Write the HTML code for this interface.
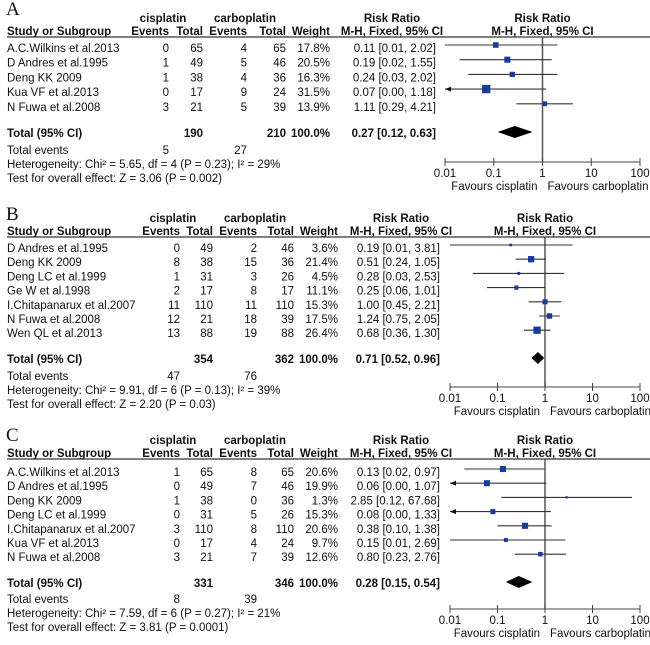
<!DOCTYPE html>
<html><head><meta charset="utf-8"><style>
html,body{margin:0;padding:0;background:#fff;}
svg text{font-family:"Liberation Sans",Arial,sans-serif;font-size:11.5px;fill:#111;}
svg text.b{font-weight:bold;}
svg text.letter{font-family:"Liberation Serif",serif;font-size:19px;}
</style></head><body>
<svg id="chart" width="650" height="640" viewBox="0 0 650 640" xmlns="http://www.w3.org/2000/svg"></svg>
<script>
// Panel A data
const studiesA = ["A.C.Wilkins et al.2013","D Andres et al.1995","Deng KK 2009","Kua VF et al.2013","N Fuwa et al.2008"];
const cisEventsA = [0,1,1,0,3];
const cisTotalA = [65,49,38,17,21];
const carEventsA = [4,5,4,9,5];
const carTotalA = [65,46,36,24,39];
const weightA = [17.8,20.5,16.3,31.5,13.9];
const rrA = [0.11,0.19,0.24,0.07,1.11];
const loA = [0.01,0.02,0.03,0.00,0.29];
const hiA = [2.02,1.55,2.02,1.18,4.21];
const totalA = {rr:0.27, lo:0.12, hi:0.63, n1:190, n2:210, e1:5, e2:27,
  het:"Heterogeneity: Chi² = 5.65, df = 4 (P = 0.23); I² = 29%", test:"Test for overall effect: Z = 3.06 (P = 0.002)"};

// Panel B data
const studiesB = ["D Andres et al.1995","Deng KK 2009","Deng LC et al.1999","Ge W et al.1998","I.Chitapanarux et al.2007","N Fuwa et al.2008","Wen QL et al.2013"];
const cisEventsB = [0,8,1,2,11,12,13];
const cisTotalB = [49,38,31,17,110,21,88];
const carEventsB = [2,15,3,8,11,18,19];
const carTotalB = [46,36,26,17,110,39,88];
const weightB = [3.6,21.4,4.5,11.1,15.3,17.5,26.4];
const rrB = [0.19,0.51,0.28,0.25,1.00,1.24,0.68];
const loB = [0.01,0.24,0.03,0.06,0.45,0.75,0.36];
const hiB = [3.81,1.05,2.53,1.01,2.21,2.05,1.30];
const totalB = {rr:0.71, lo:0.52, hi:0.96, n1:354, n2:362, e1:47, e2:76,
  het:"Heterogeneity: Chi² = 9.91, df = 6 (P = 0.13); I² = 39%", test:"Test for overall effect: Z = 2.20 (P = 0.03)"};

// Panel C data
const studiesC = ["A.C.Wilkins et al.2013","D Andres et al.1995","Deng KK 2009","Deng LC et al.1999","I.Chitapanarux et al.2007","Kua VF et al.2013","N Fuwa et al.2008"];
const cisEventsC = [1,0,1,0,3,0,3];
const cisTotalC = [65,49,38,31,110,17,21];
const carEventsC = [8,7,0,5,8,4,7];
const carTotalC = [65,46,36,26,110,24,39];
const weightC = [20.6,19.9,1.3,15.3,20.6,9.7,12.6];
const rrC = [0.13,0.06,2.85,0.08,0.38,0.15,0.80];
const loC = [0.02,0.00,0.12,0.00,0.10,0.01,0.23];
const hiC = [0.97,1.07,67.68,1.33,1.38,2.69,2.76];
const totalC = {rr:0.28, lo:0.15, hi:0.54, n1:331, n2:346, e1:8, e2:39,
  het:"Heterogeneity: Chi² = 7.59, df = 6 (P = 0.27); I² = 21%", test:"Test for overall effect: Z = 3.81 (P = 0.0001)"};

const tickVals = [0.01,0.1,1,10,100];
const tickLabels = ["0.01","0.1","1","10","100"];

const NS = "http://www.w3.org/2000/svg";
const svg = document.getElementById('chart');
function el(tag, attrs, parent){
  const e = document.createElementNS(NS, tag);
  for (const k in attrs) e.setAttribute(k, attrs[k]);
  (parent||svg).appendChild(e);
  return e;
}
function txt(g, x, y, s, anchor, cls, name){
  const t = el('text', {x:x, y:y, 'text-anchor':anchor||'start'}, g);
  if (cls) t.setAttribute('class', cls);
  
  
  t.textContent = s;
  return t;
}
function fmt(v){ return v.toFixed(2); }

function panel(cfg){
  const g = el('g', {});
  
  
  const c = cfg.cols;
  const xs = v => cfg.ax0 + (Math.log10(v) + 2) * (cfg.ax1 - cfg.ax0) / 4;
  txt(g, 6, cfg.letterY, cfg.letter, 'start', 'letter', 'panel-letter');
  const h1 = cfg.lineY - 15, h2 = cfg.lineY - 2;
  txt(g, c.cis, h1, 'cisplatin', 'middle', 'b', 'cisplatin-header');
  txt(g, c.car, h1, 'carboplatin', 'middle', 'b', 'carboplatin-header');
  txt(g, c.rrc, h1, 'Risk Ratio', 'middle', 'b', 'risk-ratio-header');
  txt(g, xs(1), h1, 'Risk Ratio', 'middle', 'b', 'plot-header');
  txt(g, 7, h2, 'Study or Subgroup', 'start', 'b', 'study-header');
  txt(g, c.e1, h2, 'Events', 'end', 'b', 'events-header');
  txt(g, c.t1, h2, 'Total', 'end', 'b', 'total-header');
  txt(g, c.e2, h2, 'Events', 'end', 'b', 'events-header');
  txt(g, c.t2, h2, 'Total', 'end', 'b', 'total-header');
  txt(g, c.w, h2, 'Weight', 'end', 'b', 'weight-header');
  txt(g, c.rrc, h2, 'M-H, Fixed, 95% CI', 'middle', 'b', 'method-header');
  txt(g, xs(1), h2, 'M-H, Fixed, 95% CI', 'middle', 'b', 'plot-method-header');
  const hl = el('line', {x1:7, x2:650, y1:cfg.lineY, y2:cfg.lineY, stroke:'#333', 'stroke-width':1.3}, g);
  
  
  const nl = el('line', {x1:xs(1), x2:xs(1), y1:cfg.lineY, y2:cfg.axisY, stroke:'#555', 'stroke-width':1.5}, g);
  
  
  cfg.studies.forEach((s, i) => {
    const my = cfg.row0 + i * cfg.dy, ty = my + 7;
    txt(g, 7, ty, s, 'start', '', 'study-name');
    txt(g, c.e1, ty, cfg.e1[i], 'end', '', 'cisplatin-events');
    txt(g, c.t1, ty, cfg.t1[i], 'end', '', 'cisplatin-total');
    txt(g, c.e2, ty, cfg.e2[i], 'end', '', 'carboplatin-events');
    txt(g, c.t2, ty, cfg.t2[i], 'end', '', 'carboplatin-total');
    txt(g, c.w, ty, cfg.w[i].toFixed(1) + '%', 'end', '', 'weight-value');
    txt(g, c.rrr, ty, fmt(cfg.rr[i]) + ' [' + fmt(cfg.lo[i]) + ', ' + fmt(cfg.hi[i]) + ']', 'end', '', 'risk-ratio-value');
    const clipLo = cfg.lo[i] < 0.01;
    const x1 = clipLo ? xs(0.01) : xs(cfg.lo[i]);
    const x2 = xs(Math.min(cfg.hi[i], 100));
    const ln = el('line', {x1:x1, x2:x2, y1:my, y2:my, stroke:'#333', 'stroke-width':1.1}, g);
    
    
    if (clipLo) {
      const ar = el('path', {d:`M${x1} ${my} l6 -2.5 v5 z`, fill:'#111'}, g);
      
      
    }
    const sz = 2 + cfg.w[i] * 0.2;
    const sq = el('rect', {x:xs(cfg.rr[i]) - sz/2, y:my - sz/2, width:sz, height:sz, fill:'#1a3a9c'}, g);
    
    
  });
  const T = cfg.total, ty = cfg.totY;
  txt(g, 7, ty + 4, 'Total (95% CI)', 'start', 'b', 'total-label');
  txt(g, c.t1, ty + 4, T.n1, 'end', 'b', 'total-cisplatin');
  txt(g, c.t2, ty + 4, T.n2, 'end', 'b', 'total-carboplatin');
  txt(g, c.w, ty + 4, '100.0%', 'end', 'b', 'total-weight');
  txt(g, c.rrr, ty + 4, fmt(T.rr) + ' [' + fmt(T.lo) + ', ' + fmt(T.hi) + ']', 'end', 'b', 'total-risk-ratio');
  const dm = el('path', {d:`M${xs(T.lo)} ${ty-1} L${xs(T.rr)} ${ty-7} L${xs(T.hi)} ${ty-1} L${xs(T.rr)} ${ty+5} Z`, fill:'#000'}, g);
  
  
  txt(g, 7, cfg.evY, 'Total events', 'start', '', 'total-events-label');
  txt(g, c.e1, cfg.evY, T.e1, 'end', '', 'total-events-cisplatin');
  txt(g, c.e2, cfg.evY, T.e2, 'end', '', 'total-events-carboplatin');
  txt(g, 7, cfg.evY + 14, T.het, 'start', '', 'heterogeneity-text');
  txt(g, 7, cfg.evY + 28, T.test, 'start', '', 'overall-effect-text');
  const ax = el('line', {x1:xs(0.01), x2:xs(100), y1:cfg.axisY, y2:cfg.axisY, stroke:'#444', 'stroke-width':1}, g);
  
  
  tickVals.forEach((v, i) => {
    const tk = el('line', {x1:xs(v), x2:xs(v), y1:cfg.axisY - 4, y2:cfg.axisY + 4, stroke:'#444', 'stroke-width':1}, g);
    
    
    txt(g, xs(v), cfg.axisY + 15, tickLabels[i], 'middle', '', 'x-tick-label');
  });
  txt(g, xs(1) - 5, cfg.axisY + 28, 'Favours cisplatin', 'end', '', 'favours-cisplatin');
  txt(g, xs(1) + 5, cfg.axisY + 28, 'Favours carboplatin', 'start', '', 'favours-carboplatin');
}

const colsA = {cis:163, car:245, e1:169, t1:203, e2:247, t2:286, w:330, rrc:392, rrr:436};
const colsBC = {cis:173, car:255, e1:180, t1:213, e2:257, t2:294, w:338, rrc:401, rrr:440};

panel({letter:'A', letterY:15, lineY:37, row0:45, dy:14.7, totY:133, evY:154, axisY:162,
  ax0:445, ax1:640, cols:colsA, studies:studiesA, e1:cisEventsA, t1:cisTotalA, e2:carEventsA, t2:carTotalA,
  w:weightA, rr:rrA, lo:loA, hi:hiA, total:totalA});
panel({letter:'B', letterY:220, lineY:237, row0:245, dy:14.2, totY:359, evY:380, axisY:387,
  ax0:450, ax1:640, cols:colsBC, studies:studiesB, e1:cisEventsB, t1:cisTotalB, e2:carEventsB, t2:carTotalB,
  w:weightB, rr:rrB, lo:loB, hi:hiB, total:totalB});
panel({letter:'C', letterY:441, lineY:459, row0:469, dy:14.2, totY:583, evY:603, axisY:609,
  ax0:450, ax1:640, cols:colsBC, studies:studiesC, e1:cisEventsC, t1:cisTotalC, e2:carEventsC, t2:carTotalC,
  w:weightC, rr:rrC, lo:loC, hi:hiC, total:totalC});
</script>
</body></html>
